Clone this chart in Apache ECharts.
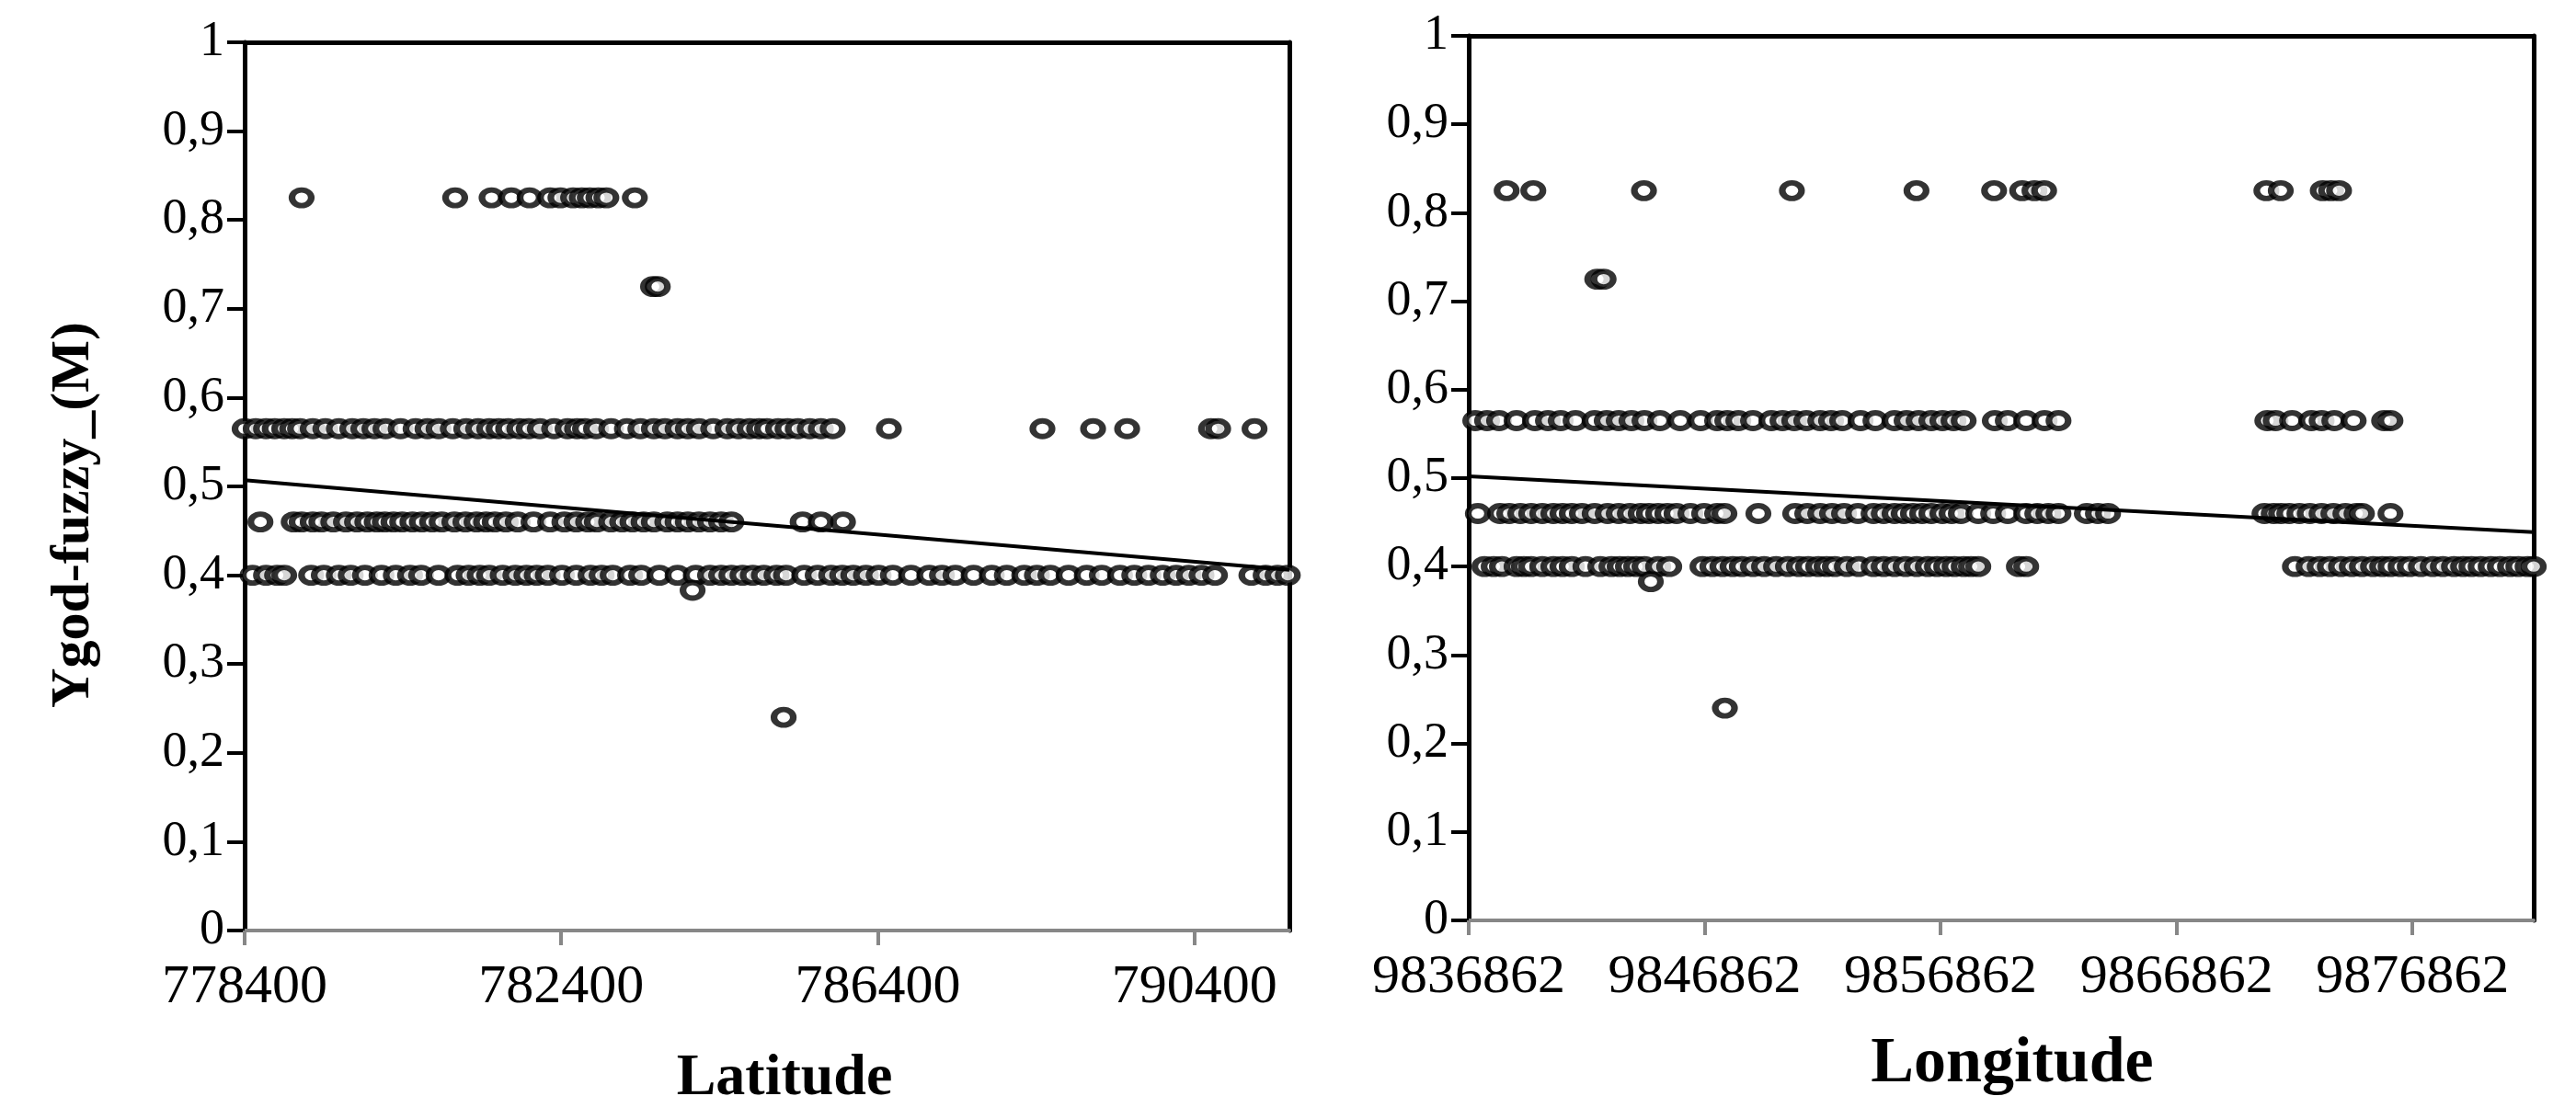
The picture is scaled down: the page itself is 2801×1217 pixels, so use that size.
<!DOCTYPE html>
<html>
<head>
<meta charset="utf-8">
<script src="https://cdn.jsdelivr.net/npm/echarts@6/dist/echarts.min.js"></script>
<style>
html, body { margin: 0; padding: 0; background: #fff; }
#chart { width: 2801px; height: 1217px; }
</style>
</head>
<body>
<div id="chart"></div>
<script>
// tick values
var yTicks = [0, 0.1, 0.2, 0.3, 0.4, 0.5, 0.6, 0.7, 0.8, 0.9, 1];
var latTicks = [778400, 782400, 786400, 790400];
var lonTicks = [9836862, 9846862, 9856862, 9866862, 9876862];

// Latitude panel: x values of the points on each level of Ygod-fuzzy_(M)
var latRow825 = [779120, 781060, 781520, 781770, 782000, 782260, 782390, 782550, 782660, 782760, 782870, 782970, 783330];
var latRow725 = [783560, 783620];
var latRow565 = [778400, 778540, 778670, 778780, 778900, 779000, 779100, 779260, 779420, 779590, 779760, 779900, 780040, 780180, 780370, 780560, 780710, 780850, 781030, 781200, 781350, 781490, 781610, 781730, 781870, 781990, 782130, 782310, 782480, 782600, 782700, 782840, 783030, 783230, 783400, 783570, 783710, 783870, 784000, 784140, 784320, 784500, 784640, 784780, 784900, 785000, 785140, 785260, 785390, 785540, 785680, 785830, 786540, 788480, 789120, 789550, 790610, 790700, 791160];
var latRow46 = [778600, 779020, 779120, 779260, 779370, 779520, 779680, 779820, 779950, 780070, 780170, 780280, 780390, 780520, 780640, 780770, 780890, 781050, 781190, 781330, 781450, 781560, 781700, 781850, 782050, 782260, 782440, 782590, 782740, 782850, 783030, 783170, 783300, 783440, 783570, 783740, 783870, 784000, 784140, 784280, 784420, 784550, 785450, 785680, 785960];
var latRow40 = [778500, 778670, 778810, 778900, 779240, 779400, 779590, 779740, 779920, 780130, 780310, 780490, 780630, 780850, 781090, 781230, 781370, 781490, 781660, 781820, 781960, 782090, 782230, 782410, 782590, 782770, 782910, 783050, 783270, 783410, 783640, 783870, 784100, 784280, 784420, 784550, 784690, 784820, 784960, 785120, 785240, 785470, 785640, 785810, 785950, 786090, 786250, 786410, 786590, 786820, 787050, 787210, 787380, 787610, 787840, 788030, 788250, 788410, 788580, 788810, 789040, 789230, 789460, 789640, 789820, 790000, 790170, 790330, 790490, 790660, 791120, 791300, 791450, 791580];
var latRow383 = [784060];
var latRow24 = [785210];
var latTrend = [[778400, 0.507], [791600, 0.406]];

// Longitude panel
var lonRow825 = [9838470, 9839600, 9844290, 9850560, 9855840, 9859130, 9860320, 9860840, 9861250, 9870670, 9871280, 9873060, 9873410, 9873750];
var lonRow725 = [9842310, 9842580];
var lonRow565 = [9837140, 9837640, 9838150, 9838890, 9839670, 9840220, 9840760, 9841390, 9842200, 9842710, 9843220, 9843760, 9844310, 9844970, 9845830, 9846690, 9847390, 9847820, 9848290, 9848910, 9849690, 9850160, 9850660, 9851170, 9851760, 9852220, 9852690, 9853470, 9854100, 9854910, 9855420, 9855930, 9856470, 9856940, 9857410, 9857840, 9859160, 9859710, 9860490, 9861270, 9861860, 9870710, 9871060, 9871760, 9872580, 9873010, 9873550, 9874370, 9875660, 9875930];
var lonRow46 = [9837250, 9838190, 9838580, 9839050, 9839510, 9839980, 9840450, 9840840, 9841230, 9841660, 9842200, 9842750, 9843220, 9843690, 9844150, 9844500, 9844890, 9845280, 9845670, 9846260, 9846840, 9847390, 9847700, 9849140, 9850700, 9851210, 9851760, 9852260, 9852770, 9853360, 9854020, 9854450, 9854910, 9855300, 9855690, 9856080, 9856470, 9856940, 9857330, 9857720, 9858460, 9859090, 9859710, 9860490, 9860960, 9861430, 9861860, 9863060, 9863530, 9863960, 9870590, 9870980, 9871290, 9871640, 9872070, 9872510, 9873010, 9873510, 9874020, 9874490, 9874720, 9875930];
var lonRow40 = [9837530, 9837920, 9838270, 9838890, 9839200, 9839510, 9839980, 9840450, 9840840, 9841230, 9841810, 9842440, 9842910, 9843260, 9843610, 9843960, 9844310, 9844890, 9845360, 9846770, 9847190, 9847620, 9848050, 9848440, 9848910, 9849380, 9849890, 9850390, 9850860, 9851250, 9851680, 9852030, 9852380, 9852890, 9853390, 9854020, 9854450, 9854910, 9855380, 9855850, 9856320, 9856710, 9857100, 9857450, 9857840, 9858150, 9858460, 9860180, 9860490, 9871880, 9872460, 9872930, 9873360, 9873830, 9874290, 9874720, 9875190, 9875580, 9875930, 9876360, 9876750, 9877220, 9877720, 9878150, 9878620, 9879010, 9879360, 9879750, 9880180, 9880570, 9881000, 9881350, 9881740, 9882000];
var lonRow383 = [9844580];
var lonRow24 = [9847720];
var lonTrend = [[9836862, 0.502], [9882000, 0.439]];

var FONT = 'Liberation Serif';

function rowsToPoints(rows) {
    var pts = [];
    rows.forEach(function (r) {
        r[1].forEach(function (x) { pts.push([x, r[0]]); });
    });
    return pts;
}

var latPoints = rowsToPoints([[0.825, latRow825], [0.725, latRow725], [0.565, latRow565], [0.46, latRow46], [0.40, latRow40], [0.383, latRow383], [0.24, latRow24]]);
var lonPoints = rowsToPoints([[0.825, lonRow825], [0.725, lonRow725], [0.565, lonRow565], [0.46, lonRow46], [0.40, lonRow40], [0.383, lonRow383], [0.24, lonRow24]]);

function bottomAxis(grid, min, max, interval, ticks) {
    return {
        type: 'value', gridIndex: grid, position: 'bottom',
        min: min, max: max, interval: interval,
        axisLine: { show: true, onZero: false, lineStyle: { color: '#878787', width: 4 } },
        axisTick: { show: true, length: 16, customValues: ticks, lineStyle: { color: '#878787', width: 4 } },
        axisLabel: {
            customValues: ticks, margin: 32, color: '#000', fontFamily: FONT, fontSize: 60,
            formatter: function (v) { return String(v); }
        },
        splitLine: { show: false }
    };
}
function topAxis(grid, min, max) {
    return {
        type: 'value', gridIndex: grid, position: 'top', min: min, max: max,
        axisLine: { show: true, onZero: false, lineStyle: { color: '#000', width: 5 } },
        axisTick: { show: false }, axisLabel: { show: false }, splitLine: { show: false }
    };
}
function leftAxis(grid) {
    return {
        type: 'value', gridIndex: grid, position: 'left', min: 0, max: 1, interval: 0.1,
        axisLine: { show: true, onZero: false, lineStyle: { color: '#000', width: 5 } },
        axisTick: { show: true, length: 19, customValues: yTicks, lineStyle: { color: '#000', width: 4 } },
        axisLabel: {
            customValues: yTicks, margin: 22, color: '#000', fontFamily: FONT, fontSize: 54,
            formatter: function (v) { return String(+v.toFixed(1)).replace('.', ','); }
        },
        splitLine: { show: false }
    };
}
function rightAxis(grid) {
    return {
        type: 'value', gridIndex: grid, position: 'right', min: 0, max: 1,
        axisLine: { show: true, onZero: false, lineStyle: { color: '#000', width: 5 } },
        axisTick: { show: false }, axisLabel: { show: false }, splitLine: { show: false }
    };
}

var markStyle = { color: '#fff', borderColor: '#000', borderWidth: 6.5 };

var chart = echarts.init(document.getElementById('chart'));
chart.setOption({
    animation: false,
    backgroundColor: '#fff',
    grid: [
        { left: 266, top: 46, width: 1136, height: 966 },
        { left: 1597, top: 39, width: 1158, height: 962 }
    ],
    xAxis: [
        bottomAxis(0, 778400, 791600, 4000, latTicks),
        topAxis(0, 778400, 791600),
        bottomAxis(1, 9836862, 9882000, 10000, lonTicks),
        topAxis(1, 9836862, 9882000)
    ],
    yAxis: [leftAxis(0), rightAxis(0), leftAxis(1), rightAxis(1)],
    series: [
        { type: 'scatter', xAxisIndex: 0, yAxisIndex: 0, data: latPoints, symbol: 'circle', symbolSize: [21, 17], itemStyle: markStyle, silent: true, z: 2 },
        { type: 'line', xAxisIndex: 0, yAxisIndex: 0, data: latTrend, symbol: 'none', lineStyle: { color: '#000', width: 4 }, silent: true, z: 3 },
        { type: 'scatter', xAxisIndex: 2, yAxisIndex: 2, data: lonPoints, symbol: 'circle', symbolSize: [21, 17], itemStyle: markStyle, silent: true, z: 2 },
        { type: 'line', xAxisIndex: 2, yAxisIndex: 2, data: lonTrend, symbol: 'none', lineStyle: { color: '#000', width: 4 }, silent: true, z: 3 }
    ],
    graphic: [
        { type: 'text', x: 80, y: 560, rotation: Math.PI / 2,
          style: { text: 'Ygod-fuzzy_(M)', font: 'bold 60px "Liberation Serif"', fill: '#000', align: 'center', verticalAlign: 'middle' } },
        { type: 'text', x: 853, y: 1173,
          style: { text: 'Latitude', font: 'bold 64px "Liberation Serif"', fill: '#000', align: 'center', verticalAlign: 'middle' } },
        { type: 'text', x: 2188, y: 1158,
          style: { text: 'Longitude', font: 'bold 70px "Liberation Serif"', fill: '#000', align: 'center', verticalAlign: 'middle' } }
    ]
});
</script>
</body>
</html>
